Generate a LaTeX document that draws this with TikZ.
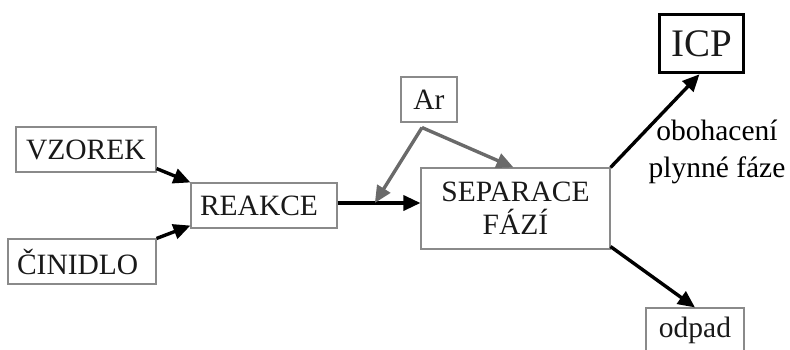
\documentclass[tikz,border=0pt]{standalone}
\usepackage{fontspec}
\setmainfont{Liberation Serif}
\usetikzlibrary{arrows.meta,calc}
\definecolor{boxgray}{HTML}{8A8A8A}
\definecolor{argray}{HTML}{6A6A6A}
\begin{document}
\begin{tikzpicture}[x=1pt,y=-1pt,
  box/.style={draw=boxgray,line width=1.1pt,inner sep=0pt,minimum height=45pt,
    font=\fontsize{29.5}{33}\selectfont,text=black!90},
  lbox/.style={box,align=left,inner xsep=#1},
  flow/.style={line width=3.4pt,draw=black,-{Triangle[length=17pt,width=15pt]}},
  gflow/.style={line width=3.4pt,draw=argray,-{Triangle[length=17pt,width=15pt]}},
  lbl/.style={font=\fontsize{29.5}{37}\selectfont,align=center,inner sep=0pt}]
\useasboundingbox (0,0) rectangle (790,349);
\node[lbox=10pt,text width=120pt] (vz) at (86,149.5) {VZOREK};
\node[lbox=9pt,text width=130pt] (ci) at (82,261.5) {ČINIDLO};
\node[lbox=9pt,text width=128pt] (re) at (264,205.5) {REAKCE};
\node[box,minimum width=56pt] (ar) at (429,99.5) {Ar};
\node[box,minimum width=189pt,minimum height=81pt,align=center] (sep) at (515.5,208.5) {SEPARACE\\FÁZÍ};
\node[box,draw=black,line width=3.5pt,minimum width=84pt,minimum height=58pt,font=\fontsize{39}{40}\selectfont] (icp) at (701.5,43.5) {ICP};
\node[box,minimum width=98pt] (od) at (695,330.5) {odpad};
\node[lbl] (lab) at (717,152) {obohacení\\plynné fáze};
% connectors
\draw[flow] ([yshift=4pt]vz.south east) -- (re.north west);
\draw[flow] (ci.north east) -- ([yshift=3pt]re.south west);
\coordinate (rs) at ([yshift=2.5pt]re.east);
\draw[flow] (rs) -- (sep.west |- rs);
\coordinate (mix) at ($(rs)!0.45!(sep.west |- rs)$);
\coordinate (arv) at ([xshift=-7pt,yshift=-5pt]ar.south);
\draw[gflow] (arv) -- (mix);
\draw[gflow] (arv) -- ([xshift=-2pt]sep.north);
\draw[flow] (sep.north east) -- ([xshift=-2pt]icp.south);
\draw[flow] ([yshift=3pt]sep.south east) -- (od.north);
\end{tikzpicture}
\end{document}
